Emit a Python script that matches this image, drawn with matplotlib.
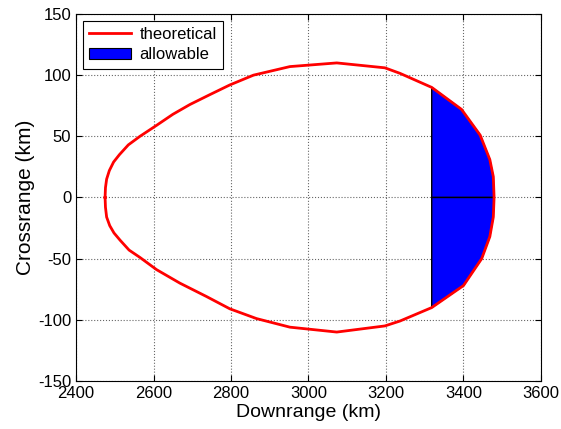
import matplotlib
matplotlib.use("Agg")
import matplotlib.pyplot as plt
from matplotlib.patches import Patch
from matplotlib.lines import Line2D

# theoretical footprint boundary (km)
upper_x = [2475, 2476, 2479, 2486, 2497, 2512, 2535, 2565, 2608, 2650, 2694, 2745, 2797, 2858, 2952, 3073, 3197, 3236, 3318, 3395, 3443, 3468, 3477, 3479]
upper_y = [0, 8, 15, 22, 29, 35, 43, 50, 59, 68, 76, 84, 92, 100, 107, 110, 106, 101.5, 90, 72, 51, 31, 17, 0]
lower_x = [2475, 2476, 2479, 2487, 2498, 2514, 2537, 2565, 2608, 2668, 2737, 2797, 2866, 2952, 3073, 3197, 3236, 3318, 3400, 3447, 3468, 3477, 3479]
lower_y = [0, -8, -16, -23, -29, -35, -43, -49, -59, -70, -81, -91, -99, -106, -110, -105, -101, -90, -72, -50, -32, -16, 0]

# allowable region starts here
x_cut = 3318

xticks = [2400, 2600, 2800, 3000, 3200, 3400, 3600]
yticks = [-150, -100, -50, 0, 50, 100, 150]

plt.rcParams['font.family'] = ['Liberation Sans', 'DejaVu Sans']
plt.rcParams['axes.unicode_minus'] = False

fig = plt.figure(figsize=(5.61, 4.29), dpi=100)
ax = fig.add_axes([0.1355, 0.1119, 0.8288, 0.8555])

# allowable region: two halves (upper and lower)
for xs, ys in [(upper_x, upper_y), (lower_x, lower_y)]:
    px = [x_cut] + [x for x in xs if x >= x_cut] + [x_cut]
    py = [0] + [y for x, y in zip(xs, ys) if x >= x_cut] + [0]
    ax.fill(px, py, facecolor='#0000ff', edgecolor='black', linewidth=1.0, zorder=2)

# closed theoretical curve
cx = upper_x + lower_x[::-1]
cy = upper_y + lower_y[::-1]
ax.plot(cx, cy, color='#ff0000', linewidth=2, zorder=3)

ax.set_xlim(2400, 3600)
ax.set_ylim(-150, 150)
ax.set_xticks(xticks)
ax.set_yticks(yticks)
ax.tick_params(direction='in', top=True, right=True, labelsize=12, length=4)
ax.grid(True, linestyle=':', color='black', linewidth=0.8, alpha=0.6)
ax.set_axisbelow(True)
for s in ax.spines.values():
    s.set_linewidth(0.8)

ax.set_xlabel('Downrange (km)', fontsize=14, labelpad=2)
ax.set_ylabel('Crossrange (km)', fontsize=15, labelpad=2)

handles = [Line2D([0], [0], color='#ff0000', linewidth=2),
           Patch(facecolor='#0000ff', edgecolor='black', linewidth=0.8)]
leg = ax.legend(handles, ['theoretical', 'allowable'], loc='upper left', fontsize=12,
                fancybox=False, edgecolor='black', framealpha=1,
                borderaxespad=0.4, handlelength=2.5, labelspacing=0.3,
                borderpad=0.4, handletextpad=0.5)
leg.get_frame().set_linewidth(0.8)

fig.savefig('out.png', dpi=100, facecolor='white')
